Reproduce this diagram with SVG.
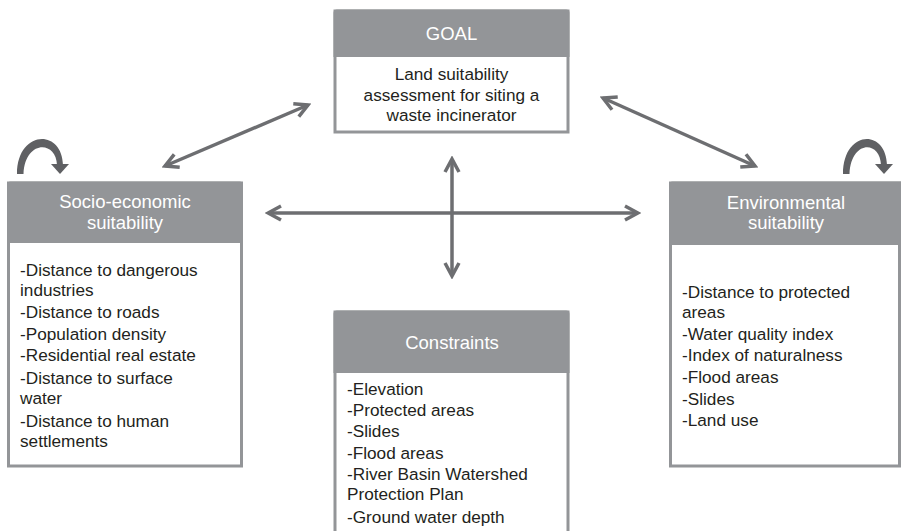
<svg xmlns="http://www.w3.org/2000/svg" width="901" height="531" viewBox="0 0 901 531">
<style>
.box{fill:#ffffff;stroke:#939598;stroke-width:3}
.hdr{fill:#939598}
.ht{font-family:"Liberation Sans",Arial,sans-serif;font-size:18.5px;fill:#ffffff;text-anchor:middle}
.bt{font-family:"Liberation Sans",Arial,sans-serif;font-size:17.2px;fill:#231f20}
.gt{font-family:"Liberation Sans",Arial,sans-serif;font-size:17.2px;fill:#231f20;text-anchor:middle}
.con{fill:none;stroke:#6d6e71;stroke-width:3.5;marker-start:url(#chev);marker-end:url(#chev)}
.loop{fill:#5f6063}
</style>
<defs>
<marker id="chev" markerUnits="userSpaceOnUse" viewBox="-2 -2 18 18" markerWidth="18" markerHeight="18" refX="13" refY="7" orient="auto-start-reverse">
<path d="M0,0 L13,7 L0,14" fill="none" stroke="#6d6e71" stroke-width="3.5" stroke-linejoin="miter"/>
</marker>
</defs>

<g id="goal">
<rect class="box" x="335" y="11" width="233" height="121"/>
<path class="hdr" d="M333.5,13 Q333.5,9.5 337,9.5 L566,9.5 Q569.5,9.5 569.5,13 L569.5,57 L333.5,57 Z"/>
<text class="ht" x="451.5" y="40">GOAL</text>
<text class="gt" x="451.5" y="80">Land suitability</text>
<text class="gt" x="451.5" y="100.5">assessment for siting a</text>
<text class="gt" x="451.5" y="121">waste incinerator</text>
</g>

<g id="socio">
<rect class="box" x="8.5" y="183" width="233" height="283"/>
<path class="hdr" d="M7,185 Q7,181.5 10.5,181.5 L239.5,181.5 Q243,181.5 243,185 L243,243 L7,243 Z"/>
<text class="ht" x="125" y="208">Socio-economic</text>
<text class="ht" x="125" y="229">suitability</text>
<text class="bt" x="20" y="276">-Distance to dangerous</text>
<text class="bt" x="20" y="296">industries</text>
<text class="bt" x="20" y="318">-Distance to roads</text>
<text class="bt" x="20" y="340">-Population density</text>
<text class="bt" x="20" y="361">-Residential real estate</text>
<text class="bt" x="20" y="384">-Distance to surface</text>
<text class="bt" x="20" y="404">water</text>
<text class="bt" x="20" y="427">-Distance to human</text>
<text class="bt" x="20" y="447">settlements</text>
</g>

<g id="environmental">
<rect class="box" x="670.5" y="183" width="229" height="283"/>
<path class="hdr" d="M669,185 Q669,181.5 672.5,181.5 L901,181.5 L901,245 L669,245 Z"/>
<text class="ht" x="786" y="209">Environmental</text>
<text class="ht" x="786" y="229">suitability</text>
<text class="bt" x="682" y="298">-Distance to protected</text>
<text class="bt" x="682" y="318">areas</text>
<text class="bt" x="682" y="340">-Water quality index</text>
<text class="bt" x="682" y="361">-Index of naturalness</text>
<text class="bt" x="682" y="383">-Flood areas</text>
<text class="bt" x="682" y="405">-Slides</text>
<text class="bt" x="682" y="426">-Land use</text>
</g>

<g id="constraints">
<rect class="box" x="335" y="312" width="233" height="230"/>
<path class="hdr" d="M333.5,314 Q333.5,310.5 337,310.5 L566,310.5 Q569.5,310.5 569.5,314 L569.5,373 L333.5,373 Z"/>
<text class="ht" x="452" y="349">Constraints</text>
<text class="bt" x="347" y="395">-Elevation</text>
<text class="bt" x="347" y="416">-Protected areas</text>
<text class="bt" x="347" y="437">-Slides</text>
<text class="bt" x="347" y="459">-Flood areas</text>
<text class="bt" x="347" y="480">-River Basin Watershed</text>
<text class="bt" x="347" y="500">Protection Plan</text>
<text class="bt" x="347" y="523">-Ground water depth</text>
</g>

<g id="connectors">
<line class="con" x1="165" y1="166" x2="308" y2="105"/>
<line class="con" x1="603" y1="98" x2="755" y2="166"/>
<line class="con" x1="268" y1="213" x2="638" y2="213"/>
<line class="con" x1="452" y1="159" x2="452" y2="276"/>
<path class="loop" d="M17,174 C17,130 62,128 63,165 L57,165 C56,140 25,140 23.5,174 Z"/>
<path class="loop" d="M51,164 L69,164 L60,174 Z"/>
<path class="loop" d="M843,174 C843,130 886,128 887,165 L881,165 C880,140 851,140 849.5,174 Z"/>
<path class="loop" d="M875,164 L893,164 L884,174 Z"/>
</g>
</svg>
